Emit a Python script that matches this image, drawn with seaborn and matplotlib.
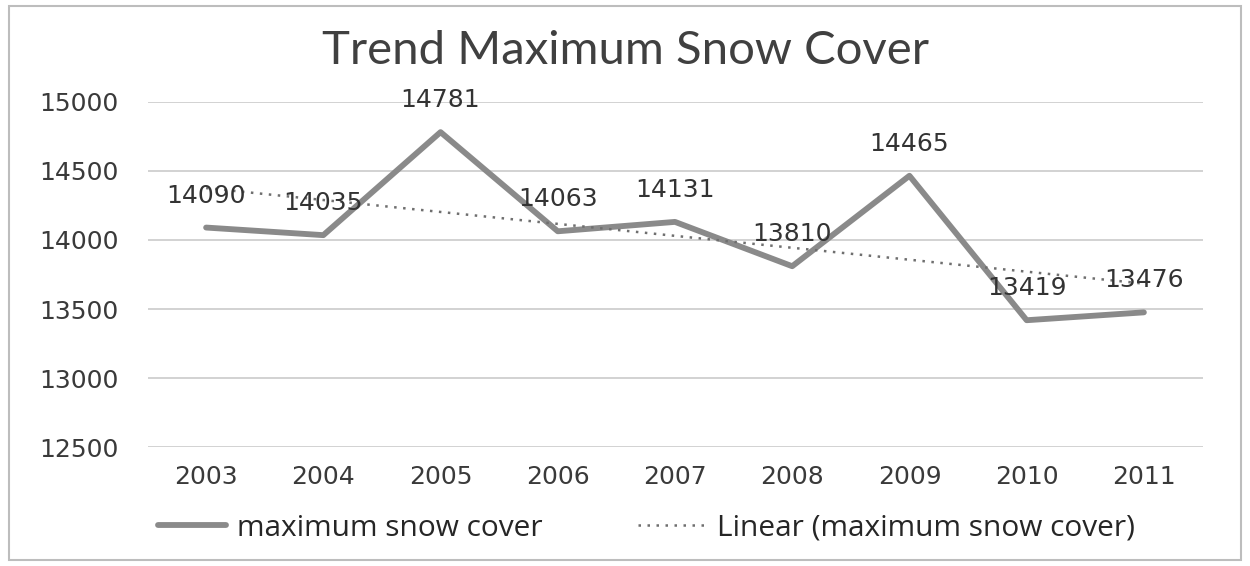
import numpy as np
import pandas as pd
import matplotlib
matplotlib.use("Agg")
import matplotlib.pyplot as plt
import seaborn as sns

years = ["2003", "2004", "2005", "2006", "2007", "2008", "2009", "2010", "2011"]
snow_cover = [14090, 14035, 14781, 14063, 14131, 13810, 14465, 13419, 13476]
y_ticks = [12500, 13000, 13500, 14000, 14500, 15000]

df = pd.DataFrame({"pos": np.arange(len(years)), "year": years, "snow": snow_cover})

sns.set_style("white")
plt.rcParams["font.family"] = ["DejaVu Sans"]

fig = plt.figure(figsize=(12.5, 5.66), dpi=100)
ax = fig.add_axes([0.118, 0.21, 0.844, 0.61])

line_col = "#8a8a8a"
sns.lineplot(data=df, x="pos", y="snow", ax=ax, color=line_col, linewidth=4.2,
             label="maximum snow cover", legend=False)
sns.regplot(data=df, x="pos", y="snow", ax=ax, scatter=False, ci=None,
            line_kws=dict(color="#6f6f6f", linestyle=(0, (1, 2.6)), linewidth=1.8),
            label="Linear (maximum snow cover)")

for x, v in zip(df["pos"], df["snow"]):
    ax.annotate(str(v), (x, v), xytext=(0, 23), textcoords="offset points",
                ha="center", va="center", fontsize=18, color="#333333")

ax.set_xlim(-0.5, len(years) - 0.5)
ax.set_ylim(12500, 15000)
ax.set_xticks(df["pos"])
ax.set_xticklabels(years)
ax.set_yticks(y_ticks)
ax.tick_params(axis="both", labelsize=18, colors="#3a3a3a", length=0)
ax.tick_params(axis="y", pad=21)
ax.tick_params(axis="x", pad=13)
ax.set_xlabel("")
ax.set_ylabel("")
ax.grid(axis="y", color="#cfcfcf", linewidth=1.3)
ax.grid(axis="x", visible=False)
ax.set_axisbelow(True)
for s in ax.spines.values():
    s.set_visible(False)

fig.text(0.5, 0.91, "Trend Maximum Snow Cover", ha="center", va="center",
         fontsize=34, color="#404040", family=["Lato", "DejaVu Sans"])

handles, labels = ax.get_legend_handles_labels()
fig.legend(handles, labels, loc="center", bbox_to_anchor=(0.517, 0.067), ncol=2,
           frameon=False, handlelength=2.3, columnspacing=3.2, handletextpad=0.35,
           prop={"family": ["Open Sans", "DejaVu Sans"], "size": 21.5})

border = plt.Rectangle((0.007, 0.01), 0.986, 0.98, transform=fig.transFigure,
                       fill=False, edgecolor="#bdbdbd", linewidth=1.5)
fig.add_artist(border)

fig.savefig("out.png", dpi=100)
